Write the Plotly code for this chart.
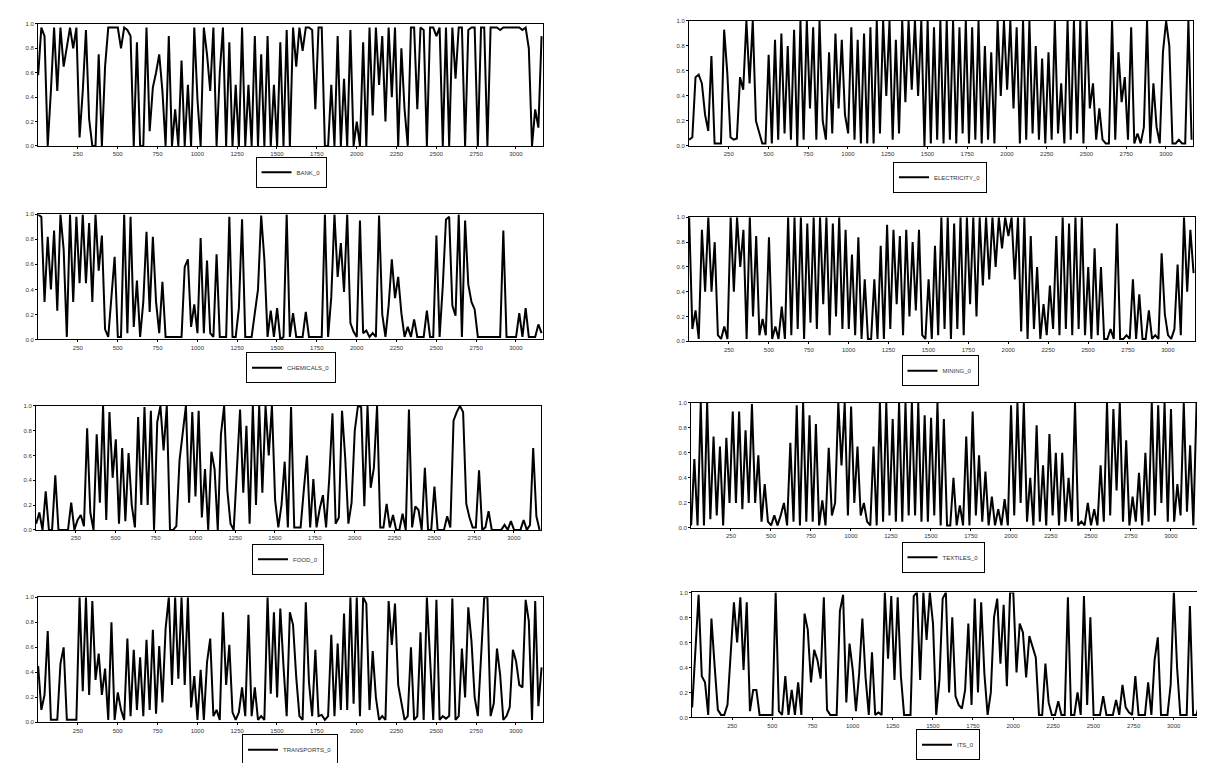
import plotly.graph_objects as go

STEP = 20  # observations between stored readings
x_ticks = [250, 500, 750, 1000, 1250, 1500, 1750, 2000, 2250, 2500, 2750, 3000]
y_ticks = [0.0, 0.2, 0.4, 0.6, 0.8, 1.0]

bank = [0.58, 0.97, 0.9, 0.0, 0.45, 0.97, 0.45, 0.97, 0.65, 0.8,
        0.97, 0.8, 0.97, 0.07, 0.45, 0.95, 0.22, 0.0, 0.0, 0.75,
        0.0, 0.65, 0.97, 0.97, 0.97, 0.97, 0.8, 0.97, 0.95, 0.9,
        0.0, 0.85, 0.0, 0.0, 0.97, 0.12, 0.48, 0.6, 0.75, 0.45,
        0.0, 0.9, 0.0, 0.3, 0.0, 0.7, 0.0, 0.5, 0.0, 0.97,
        0.38, 0.0, 0.97, 0.75, 0.45, 0.97, 0.0, 0.6, 0.97, 0.0,
        0.85, 0.0, 0.5, 0.0, 0.97, 0.0, 0.5, 0.0, 0.9, 0.0,
        0.75, 0.0, 0.9, 0.0, 0.5, 0.0, 0.85, 0.0, 0.95, 0.0,
        0.97, 0.65, 0.97, 0.78, 0.97, 0.97, 0.95, 0.3, 0.97, 0.97,
        0.0, 0.0, 0.5, 0.0, 0.9, 0.0, 0.55, 0.0, 0.95, 0.0,
        0.2, 0.0, 0.85, 0.0, 0.97, 0.25, 0.97, 0.5, 0.9, 0.2,
        0.97, 0.4, 0.97, 0.0, 0.8, 0.3, 0.0, 0.97, 0.97, 0.3,
        0.97, 0.95, 0.0, 0.97, 0.97, 0.9, 0.97, 0.0, 0.97, 0.0,
        0.97, 0.55, 0.97, 0.97, 0.0, 0.95, 0.97, 0.97, 0.0, 0.97,
        0.97, 0.0, 0.97, 0.97, 0.97, 0.95, 0.97, 0.97, 0.97, 0.97,
        0.97, 0.97, 0.95, 0.97, 0.8, 0.0, 0.3, 0.15, 0.9]

electricity = [0.05, 0.07, 0.55, 0.57, 0.5, 0.25, 0.12, 0.72, 0.02, 0.02,
               0.02, 0.93, 0.58, 0.07, 0.05, 0.06, 0.55, 0.45, 1.0, 0.5,
               1.0, 0.2, 0.1, 0.02, 0.02, 0.73, 0.02, 0.85, 0.05, 0.9,
               0.1, 0.8, 0.05, 0.93, 0.0, 1.0, 0.05, 1.0, 0.3, 0.95,
               0.05, 1.0, 0.2, 0.05, 0.75, 0.1, 0.9, 0.3, 0.85, 0.25,
               0.1, 0.95, 0.05, 0.85, 0.02, 0.9, 0.02, 0.95, 0.02, 1.0,
               0.1, 1.0, 0.4, 1.0, 0.05, 0.85, 0.1, 1.0, 0.35, 1.0,
               0.45, 1.0, 0.4, 1.0, 0.0, 1.0, 0.02, 0.95, 0.05, 1.0,
               0.02, 1.0, 0.05, 1.0, 0.02, 0.95, 0.1, 1.0, 0.02, 0.95,
               0.05, 1.0, 0.02, 0.8, 0.05, 0.75, 0.02, 1.0, 0.4, 1.0,
               0.45, 1.0, 0.3, 0.95, 0.02, 1.0, 0.05, 1.0, 0.1, 0.8,
               0.05, 0.7, 0.02, 0.75, 0.05, 1.0, 0.1, 0.5, 0.02, 1.0,
               0.05, 1.0, 0.1, 1.0, 0.02, 1.0, 0.3, 0.5, 0.05, 0.3,
               0.05, 0.02, 0.02, 1.0, 0.05, 0.75, 0.35, 0.55, 0.05, 0.95,
               0.02, 0.1, 0.02, 0.15, 1.0, 0.02, 0.5, 0.15, 0.02, 0.75,
               1.0, 0.8, 0.02, 0.02, 0.05, 0.02, 0.02, 1.0, 0.05]

chemicals = [1.0, 0.98, 0.3, 0.82, 0.4, 0.87, 0.23, 1.0, 0.72, 0.02,
             1.0, 0.3, 0.98, 0.45, 1.0, 0.45, 0.93, 0.3, 1.0, 0.55,
             0.83, 0.08, 0.02, 0.33, 0.66, 0.02, 0.02, 1.0, 0.05, 0.98,
             0.1, 0.47, 0.02, 0.3, 0.86, 0.22, 0.82, 0.3, 0.05, 0.46,
             0.02, 0.02, 0.02, 0.02, 0.02, 0.02, 0.58, 0.64, 0.1, 0.28,
             0.05, 0.81, 0.05, 0.63, 0.05, 0.02, 0.68, 0.02, 0.02, 0.02,
             0.98, 0.02, 0.02, 0.25, 0.96, 0.02, 0.02, 0.02, 0.21, 0.4,
             0.99, 0.64, 0.02, 0.23, 0.02, 0.25, 0.0, 0.02, 1.0, 0.02,
             0.21, 0.02, 0.02, 0.02, 0.22, 0.02, 0.02, 0.02, 0.02, 0.02,
             1.0, 0.02, 0.34, 1.0, 0.5, 0.77, 0.38, 1.0, 0.13, 0.06,
             0.02, 0.95, 0.05, 0.07, 0.02, 0.05, 0.02, 0.99, 0.2, 0.02,
             0.27, 0.64, 0.33, 0.5, 0.21, 0.02, 0.1, 0.02, 0.16, 0.02,
             0.02, 0.02, 0.23, 0.02, 0.02, 0.83, 0.02, 0.43, 0.96, 0.98,
             0.27, 0.19, 1.0, 0.02, 0.95, 0.44, 0.3, 0.24, 0.02, 0.02,
             0.02, 0.02, 0.02, 0.02, 0.02, 0.02, 0.87, 0.02, 0.02, 0.02,
             0.02, 0.21, 0.02, 0.25, 0.02, 0.02, 0.02, 0.12, 0.05]

mining = [1.0, 0.1, 0.25, 0.02, 0.9, 0.4, 1.0, 0.4, 0.8, 0.05,
          0.02, 0.12, 0.02, 1.0, 0.4, 1.0, 0.6, 0.9, 0.02, 1.0,
          0.2, 0.85, 0.05, 0.18, 0.05, 0.84, 0.02, 0.12, 0.02, 0.28,
          0.02, 1.0, 0.05, 1.0, 0.1, 1.0, 0.02, 0.95, 0.15, 1.0,
          0.1, 1.0, 0.3, 1.0, 0.05, 0.95, 0.2, 1.0, 0.1, 0.9,
          0.1, 0.7, 0.05, 0.84, 0.02, 0.5, 0.02, 0.02, 0.5, 0.02,
          0.77, 0.02, 0.94, 0.1, 0.9, 0.3, 0.85, 0.05, 0.9, 0.2,
          0.8, 0.25, 0.9, 0.05, 0.02, 0.5, 0.02, 0.77, 0.05, 1.0,
          0.1, 1.0, 0.02, 0.95, 0.1, 1.0, 0.05, 1.0, 0.3, 1.0,
          0.2, 1.0, 0.45, 1.0, 0.5, 1.0, 0.6, 1.0, 0.75, 1.0,
          0.85, 1.0, 0.5, 1.0, 0.08, 1.0, 0.02, 0.85, 0.1, 0.6,
          0.02, 0.3, 0.05, 0.45, 0.1, 0.85, 0.05, 1.0, 0.1, 0.95,
          0.05, 1.0, 0.1, 1.0, 0.05, 0.6, 0.02, 0.75, 0.05, 0.6,
          0.02, 0.02, 0.1, 0.02, 0.95, 0.02, 0.02, 0.05, 0.02, 0.5,
          0.02, 0.38, 0.02, 0.02, 0.25, 0.02, 0.05, 0.02, 0.71, 0.22,
          0.05, 0.02, 0.1, 0.62, 0.05, 1.0, 0.4, 0.9, 0.55]

food = [0.05, 0.14, 0.0, 0.31, 0.0, 0.0, 0.44, 0.0, 0.0, 0.0,
        0.0, 0.22, 0.0, 0.08, 0.12, 0.03, 0.82, 0.14, 0.0, 0.77,
        0.22, 1.0, 0.08, 0.95, 0.42, 0.73, 0.05, 0.66, 0.07, 0.62,
        0.2, 0.02, 0.91, 0.2, 0.99, 0.2, 0.96, 0.0, 0.87, 1.0,
        0.64, 1.0, 0.0, 0.0, 0.03, 0.56, 0.77, 1.0, 0.22, 0.95,
        0.27, 0.96, 0.1, 0.49, 0.0, 0.63, 0.49, 0.0, 0.77, 1.0,
        0.32, 0.05, 0.0, 0.48, 0.97, 0.3, 0.84, 0.05, 1.0, 0.2,
        1.0, 0.3, 1.0, 0.6, 1.0, 0.24, 0.02, 0.2, 0.55, 0.02,
        0.99, 0.02, 0.02, 0.02, 0.32, 0.6, 0.02, 0.41, 0.02, 0.17,
        0.28, 0.02, 0.42, 0.94, 0.05, 0.1, 0.96, 0.58, 0.05, 0.22,
        0.8, 1.0, 0.99, 0.19, 1.0, 0.34, 0.5, 1.0, 0.02, 0.02,
        0.21, 0.02, 0.12, 0.0, 0.0, 0.13, 0.0, 0.97, 0.02, 0.19,
        0.16, 0.0, 0.5, 0.0, 0.0, 0.35, 0.0, 0.0, 0.0, 0.11,
        0.02, 0.88, 0.95, 1.0, 0.95, 0.21, 0.1, 0.02, 0.02, 0.48,
        0.0, 0.02, 0.15, 0.0, 0.0, 0.0, 0.0, 0.04, 0.0, 0.07,
        0.0, 0.0, 0.0, 0.08, 0.0, 0.04, 0.66, 0.11, 0.0]

textiles = [0.02, 0.55, 0.02, 1.0, 0.02, 1.0, 0.07, 0.73, 0.1, 0.65,
            0.02, 0.72, 0.2, 0.93, 0.2, 0.93, 0.15, 0.78, 0.2, 0.99,
            0.2, 0.58, 0.05, 0.35, 0.05, 0.02, 0.1, 0.02, 0.1, 0.2,
            0.02, 0.68, 0.05, 0.98, 0.02, 1.0, 0.05, 0.9, 0.05, 0.83,
            0.02, 0.22, 0.02, 0.64, 0.1, 0.2, 1.0, 0.5, 1.0, 0.1,
            0.97, 0.2, 0.65, 0.1, 0.2, 0.05, 0.02, 0.65, 0.02, 1.0,
            0.05, 1.0, 0.1, 0.87, 0.05, 1.0, 0.05, 1.0, 0.1, 1.0,
            0.1, 1.0, 0.05, 0.9, 0.05, 0.88, 0.1, 1.0, 0.02, 0.87,
            0.02, 0.02, 0.4, 0.02, 0.18, 0.02, 0.73, 0.02, 0.93, 0.1,
            0.58, 0.05, 0.45, 0.02, 0.25, 0.02, 0.15, 0.02, 0.23, 0.02,
            0.98, 0.1, 1.0, 0.2, 1.0, 0.05, 0.4, 0.02, 0.82, 0.05,
            0.5, 0.02, 0.75, 0.1, 0.6, 0.02, 0.6, 0.05, 0.4, 0.05,
            1.0, 0.02, 0.05, 0.02, 0.2, 0.02, 0.15, 0.02, 0.5, 0.05,
            1.0, 0.1, 0.95, 0.3, 1.0, 0.05, 0.7, 0.02, 0.25, 0.05,
            0.44, 0.02, 0.6, 0.05, 1.0, 0.1, 0.98, 0.2, 1.0, 0.05,
            0.95, 0.05, 0.35, 0.1, 1.0, 0.13, 0.66, 0.02, 1.0]

transports = [0.45, 0.1, 0.22, 0.73, 0.02, 0.02, 0.02, 0.47, 0.6, 0.02,
              0.02, 0.02, 0.02, 1.0, 0.25, 1.0, 0.22, 0.97, 0.34, 0.55,
              0.22, 0.43, 0.02, 0.8, 0.02, 0.24, 0.1, 0.02, 0.67, 0.05,
              0.58, 0.1, 0.52, 0.05, 0.66, 0.1, 0.74, 0.07, 0.61, 0.16,
              0.75, 1.0, 0.3, 1.0, 0.35, 1.0, 0.3, 1.0, 0.12, 0.37,
              0.02, 0.42, 0.02, 0.48, 0.67, 0.05, 0.1, 0.02, 0.88, 0.3,
              0.62, 0.08, 0.02, 0.08, 0.28, 0.05, 0.86, 0.05, 0.28, 0.02,
              0.05, 0.02, 1.0, 0.23, 0.88, 0.2, 0.91, 0.45, 0.05, 0.88,
              0.78, 0.36, 0.05, 0.02, 0.96, 0.32, 0.05, 0.58, 0.05, 0.06,
              0.02, 0.05, 0.7, 0.05, 0.63, 0.1, 0.87, 0.1, 1.0, 0.15,
              1.0, 0.05, 1.0, 0.95, 0.1, 0.57, 0.2, 0.02, 0.05, 0.02,
              0.97, 0.62, 0.95, 0.3, 0.17, 0.02, 0.05, 0.6, 0.02, 0.05,
              0.72, 0.02, 1.0, 0.47, 0.02, 0.98, 0.02, 0.05, 0.03, 0.05,
              0.99, 0.02, 0.05, 0.59, 0.2, 0.92, 0.65, 0.2, 0.05, 0.52,
              1.0, 1.0, 0.05, 0.15, 0.59, 0.38, 0.02, 0.05, 0.12, 0.58,
              0.49, 0.3, 0.28, 0.98, 0.81, 0.02, 0.97, 0.13, 0.44]

its = [0.08, 0.51, 0.98, 0.33, 0.28, 0.02, 0.79, 0.41, 0.06, 0.02,
       0.02, 0.1, 0.5, 0.92, 0.6, 0.96, 0.38, 0.92, 0.05, 0.22,
       0.22, 0.02, 0.02, 0.02, 0.02, 0.02, 1.0, 0.05, 0.02, 0.33,
       0.02, 0.22, 0.02, 0.28, 0.02, 0.83, 0.7, 0.28, 0.54, 0.46,
       0.31, 0.96, 0.06, 0.02, 0.02, 0.02, 0.85, 0.98, 0.12, 0.59,
       0.38, 0.05, 0.35, 0.79, 0.32, 0.02, 0.52, 0.02, 0.04, 0.02,
       1.0, 0.47, 0.97, 0.3, 0.96, 0.33, 0.02, 0.02, 0.02, 0.97,
       1.0, 0.3, 1.0, 0.62, 1.0, 0.75, 0.02, 0.3, 0.95, 1.0,
       0.2, 0.8, 0.17, 0.1, 0.07, 0.22, 0.75, 0.1, 0.95, 0.2,
       0.92, 0.35, 0.02, 0.2, 0.8, 0.95, 0.43, 0.9, 0.25, 1.0,
       1.0, 0.36, 0.75, 0.68, 0.32, 0.65, 0.57, 0.48, 0.02, 0.02,
       0.43, 0.12, 0.02, 0.02, 0.13, 0.02, 0.02, 0.96, 0.02, 0.02,
       0.2, 0.02, 0.97, 0.1, 0.8, 0.02, 0.02, 0.02, 0.17, 0.02,
       0.02, 0.02, 0.14, 0.02, 0.26, 0.08, 0.04, 0.02, 0.33, 0.02,
       0.02, 0.02, 0.28, 0.02, 0.46, 0.64, 0.02, 0.02, 0.02, 0.26,
       1.0, 0.4, 0.02, 0.02, 0.02, 0.89, 0.02, 0.02, 0.11]

names = ["BANK_0", "ELECTRICITY_0", "CHEMICALS_0", "MINING_0",
         "FOOD_0", "TEXTILES_0", "TRANSPORTS_0", "ITS_0"]
series = [bank, electricity, chemicals, mining, food, textiles, transports, its]

W, H = 1205, 763
# plot-area boxes in pixels: (left, right, top, bottom)
boxes = [(30, 535, 13, 136), (681, 1185, 10, 136),
         (30, 535, 205, 331), (681, 1187, 208, 333),
         (28, 533, 398, 523), (683, 1190, 395, 521),
         (30, 535, 591, 717), (684, 1193, 586, 712)]
# legend anchor (centre x, top y) in pixels
leg_pos = [(283, 147), (932, 152), (283, 344), (932, 347),
           (280, 537), (935, 535), (282, 729), (940, 724)]

fig = go.Figure()
tickfont = dict(family="Liberation Sans, Arial, sans-serif", size=6, color="#333")

for k, (name, vals) in enumerate(zip(names, series)):
    n = k + 1
    xs = [1 + STEP * i for i in range(len(vals))]
    fig.add_trace(go.Scatter(
        x=xs, y=vals, mode="lines", name=name,
        line=dict(color="black", width=2.0),
        xaxis="x" if n == 1 else f"x{n}",
        yaxis="y" if n == 1 else f"y{n}",
        legend="legend" if n == 1 else f"legend{n}",
        showlegend=True,
    ))
    l, r, t, b = boxes[k]
    xa = dict(domain=[l / W, r / W], range=[0, 3170],
              tickvals=x_ticks, ticktext=[str(v) for v in x_ticks],
              showgrid=False, zeroline=False, showline=True, mirror=True,
              linecolor="black", linewidth=1, ticks="outside", ticklen=2,
              tickcolor="black", tickfont=tickfont,
              anchor="y" if n == 1 else f"y{n}")
    ya = dict(domain=[1 - b / H, 1 - t / H], range=[0, 1.0],
              tickvals=y_ticks, ticktext=[f"{v:.1f}" for v in y_ticks],
              showgrid=False, zeroline=False, showline=True, mirror=True,
              linecolor="black", linewidth=1, ticks="outside", ticklen=2,
              tickcolor="black", tickfont=tickfont,
              anchor="x" if n == 1 else f"x{n}")
    fig.layout["xaxis" if n == 1 else f"xaxis{n}"] = xa
    fig.layout["yaxis" if n == 1 else f"yaxis{n}"] = ya
    lx, ly = leg_pos[k]
    fig.layout["legend" if n == 1 else f"legend{n}"] = dict(
        x=lx / W, y=1 - ly / H, xanchor="center", yanchor="top",
        bordercolor="black", borderwidth=1, bgcolor="white",
        font=dict(family="Liberation Sans, Arial, sans-serif", size=6, color="#333"),
        itemwidth=30, tracegroupgap=0,
    )

fig.update_layout(width=W, height=H, margin=dict(l=0, r=0, t=0, b=0),
                  paper_bgcolor="white", plot_bgcolor="white")

fig.write_html("out.html")
